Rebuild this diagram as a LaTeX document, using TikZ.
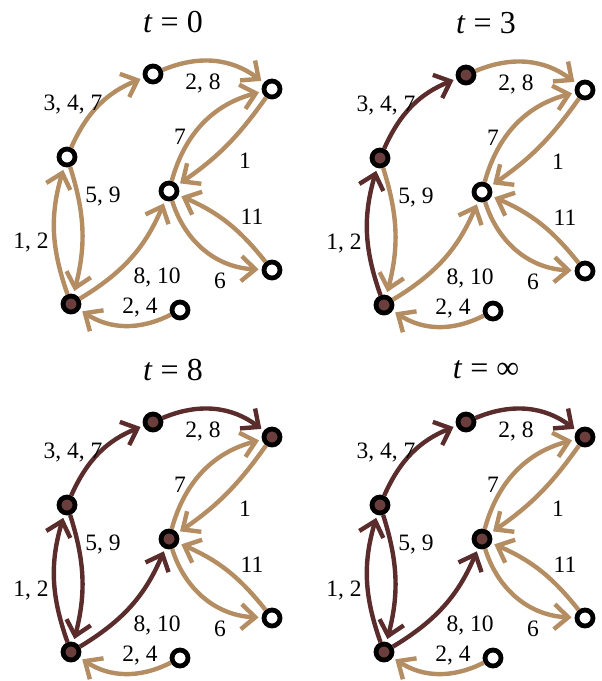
\documentclass[tikz,border=0pt]{standalone}
\usepackage{fontspec}
\setmainfont{Liberation Serif}
\usetikzlibrary{arrows.meta}

\definecolor{edgetan}{HTML}{B48D63}
\definecolor{edgedark}{HTML}{5A2C2C}
\definecolor{nodefill}{HTML}{6A3E3C}

\tikzset{
  vert/.style={circle, draw=black, line width=4.8pt, minimum size=16pt,
               inner sep=0pt, fill=white},
  vertOn/.style={vert, fill=nodefill},
  vertOff/.style={vert},
  barb/.tip={Straight Barb[length=14pt, width=25pt, line width=4.4pt]},
  link/.style={line width=4.4pt, -barb, shorten >=3pt},
  linkLo/.style={link, draw=edgetan},
  linkHi/.style={link, draw=edgedark},
  lbl/.style={font=\fontsize{23.5}{23.5}\selectfont, inner sep=0pt},
  ttl/.style={font=\fontsize{32}{32}\selectfont, inner sep=0pt},
}

% One panel of the spreading process: #1 name prefix, #2 offset,
% #3 time shown in the heading; vertex and link looks come from
% the styles vxA..vxG and lkAB..lkGA in force when it is called
\newcommand\netpanel[3]{%
  \begin{scope}[shift={#2}]
    \node[ttl] (#1T) at (173,22) {\textit{t} = #3};
    \node[vxA] (#1A) at (71,304) {};
    \node[vxB] (#1B) at (67,157) {};
    \node[vxC] (#1C) at (153,74) {};
    \node[vxD] (#1D) at (272,89) {};
    \node[vxE] (#1E) at (169,191) {};
    \node[vxF] (#1F) at (272,270) {};
    \node[vxG] (#1G) at (180,310) {};
    \draw[lkAB] (#1A) to[bend left=18] (#1B);
    \draw[lkBA] (#1B) to[bend left=16] (#1A);
    \draw[lkBC] (#1B) to[bend left=22] (#1C);
    \draw[lkCD] (#1C) to[bend left=30] (#1D);
    \draw[lkED] (#1E) to[bend left=30] (#1D);
    \draw[lkDE] (#1D) to[bend left=10] (#1E);
    \draw[lkAE] (#1A) to[bend right=18] (#1E);
    \draw[lkEF] (#1E) to[bend right=35] (#1F);
    \draw[lkFE] (#1F) to[bend right=14] (#1E);
    \draw[lkGA] (#1G) to[bend left=30] (#1A);
    \node[lbl] (#1l1) at (73,105) {3, 4, 7};
    \node[lbl] (#1l2) at (203,83) {2, 8};
    \node[lbl] (#1l3) at (180,137) {7};
    \node[lbl] (#1l4) at (245,161) {1};
    \node[lbl] (#1l5) at (103,197) {5, 9};
    \node[lbl] (#1l6) at (31,243) {1, 2};
    \node[lbl] (#1l7) at (252,217) {11};
    \node[lbl] (#1l8) at (157,277) {8, 10};
    \node[lbl] (#1l9) at (220,281) {6};
    \node[lbl] (#1l10) at (140,308) {2, 4};
  \end{scope}}

\begin{document}
\begin{tikzpicture}[x=1pt, y=-1pt]
  \useasboundingbox (0,0) rectangle (602,681);
  % t = 0
  \tikzset{vxA/.style=vertOn, vxB/.style=vertOff, vxC/.style=vertOff,
    vxD/.style=vertOff, vxE/.style=vertOff, vxF/.style=vertOff,
    vxG/.style=vertOff,
    lkAB/.style=linkLo, lkBA/.style=linkLo, lkBC/.style=linkLo,
    lkCD/.style=linkLo, lkED/.style=linkLo, lkDE/.style=linkLo,
    lkAE/.style=linkLo, lkEF/.style=linkLo, lkFE/.style=linkLo,
    lkGA/.style=linkLo}
  \netpanel{p}{(0,0)}{0}
  % t = 3
  \tikzset{vxB/.style=vertOn, vxC/.style=vertOn,
    lkAB/.style=linkHi, lkBC/.style=linkHi}
  \netpanel{q}{(313,1)}{3}
  % t = 8
  \tikzset{vxD/.style=vertOn, vxE/.style=vertOn,
    lkBA/.style=linkHi, lkCD/.style=linkHi, lkAE/.style=linkHi}
  \netpanel{r}{(0,348)}{8}
  % t = infinity
  \netpanel{s}{(313,348)}{∞}
\end{tikzpicture}
\end{document}
